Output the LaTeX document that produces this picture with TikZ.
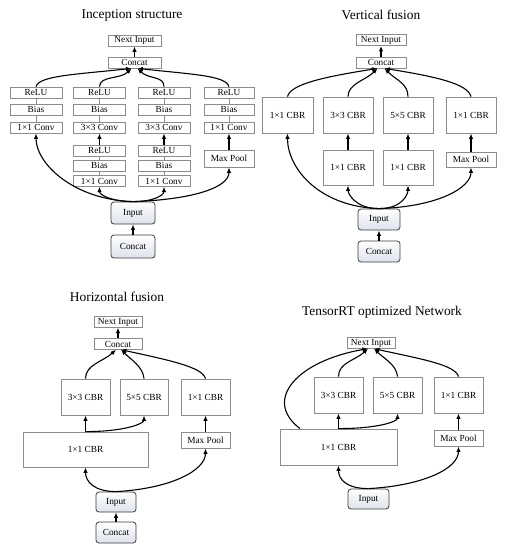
\documentclass[tikz,border=0pt]{standalone}
\usepackage{fontspec}
\setmainfont{Liberation Serif}
\usetikzlibrary{arrows.meta,shadings}
\definecolor{boxgray}{HTML}{8C8C8C}
\definecolor{inbot}{HTML}{DDE2EC}
\definecolor{indraw}{HTML}{3C3C3C}
\newcommand\bx[7][]{\node[box,#1,minimum width=#5pt,minimum height=#6pt] (#2) at (#3,-#4) {#7};}
\begin{document}
\begin{tikzpicture}[x=1pt,y=1pt,
  box/.style={draw=boxgray,line width=0.8pt,inner sep=0pt,font=\fontsize{9.3}{10}\selectfont,fill=white},
  inbox/.style={draw=indraw,rounded corners=3pt,top color=white,bottom color=inbot,line width=0.8pt},
  arr/.style={-{Latex[length=5.5pt,width=4.5pt]},line width=1.1pt,black},
  link/.style={draw=boxgray,line width=0.8pt},
  ttl/.style={font=\fontsize{13.4}{15}\selectfont,inner sep=0pt}]
\useasboundingbox (0,0) rectangle (505,-550);
% ---------- Inception structure ----------
\node[ttl] (t1) at (132,-15) {Inception structure};
\bx{ni1}{134.5}{40.5}{53}{11}{Next Input}
\bx{cc1}{134.5}{62.5}{53}{11}{Concat}
\bx{ra}{36}{92.5}{52}{11}{ReLU}
\bx{ba}{36}{109.5}{52}{11}{Bias}
\bx{ca}{36}{127.5}{52}{11}{1×1 Conv}
\bx{rb}{99.5}{92.5}{52}{11}{ReLU}
\bx{bb}{99.5}{109.5}{52}{11}{Bias}
\bx{cb}{99.5}{127.5}{52}{11}{3×3 Conv}
\bx{rb2}{99.5}{150.5}{52}{11}{ReLU}
\bx{bb2}{99.5}{165.5}{52}{11}{Bias}
\bx{cb2}{99.5}{181}{52}{10.5}{1×1 Conv}
\bx{rc}{164}{92.5}{52}{11}{ReLU}
\bx{bc}{164}{109.5}{52}{11}{Bias}
\bx{cc}{164}{127.5}{52}{11}{3×3 Conv}
\bx{rc2}{164}{150.5}{52}{11}{ReLU}
\bx{bc2}{164}{165.5}{52}{11}{Bias}
\bx{cc2}{164}{181}{52}{10.5}{1×1 Conv}
\bx{rd}{229}{92.5}{50}{11}{ReLU}
\bx{bd}{229}{109.5}{50}{11}{Bias}
\bx{cd}{229}{127.5}{50}{11}{1×1 Conv}
\bx{mpd}{229}{158.5}{50}{17}{Max Pool}
\bx[inbox]{in1}{133}{213}{44}{22}{Input}
\bx[inbox]{co1}{133}{246.5}{44}{23}{Concat}
\foreach \c in {a,b,c,d}{
  \draw[link] (r\c.south) -- (b\c.north);
  \draw[link] (b\c.south) -- (c\c.north);}
\foreach \c in {b,c}{
  \draw[link] (r\c2.south) -- (b\c2.north);
  \draw[link] (b\c2.south) -- (c\c2.north);
  \draw[arr] (r\c2.north) -- (c\c.south);}
\draw[arr] (mpd.north) -- (cd.south);
\draw[arr] (cc1.north) -- (ni1.south);
\draw[arr] (co1.north) -- (in1.south);
\draw[arr] (ra.north) .. controls +(3,11) and +(-55,-6) .. ([xshift=-3pt]cc1.south);
\draw[arr] (rb.north) .. controls +(0,11) and +(-11,-11) .. ([xshift=-3pt]cc1.south);
\draw[arr] (rc.north) .. controls +(0,11) and +(11,-11) .. ([xshift=3pt]cc1.south);
\draw[arr] (rd.north) .. controls +(-3,11) and +(55,-6) .. ([xshift=3pt]cc1.south);
\draw[arr] (in1.north) .. controls +(-60,2) and +(0,-30) .. (ca.south);
\draw[arr] (in1.north) .. controls +(-22,0) and +(0,-8) .. (cb2.south);
\draw[arr] (in1.north) .. controls +(22,0) and +(0,-8) .. (cc2.south);
\draw[arr] (in1.north) .. controls +(60,2) and +(0,-20) .. (mpd.south);
% ---------- Vertical fusion ----------
\node[ttl] (t2) at (381,-15) {Vertical fusion};
\bx{ni2}{381}{40}{50}{11}{Next Input}
\bx{cc2v}{381}{62.5}{50}{11}{Concat}
\bx{va}{287.5}{115}{51}{36}{1×1 CBR}
\bx{vb}{348}{115}{50}{36}{3×3 CBR}
\bx{vc}{408}{115}{50}{36}{5×5 CBR}
\bx{vd}{471}{115}{50}{36}{1×1 CBR}
\bx{vb2}{348}{167.5}{50}{35}{1×1 CBR}
\bx{vc2}{408}{167.5}{50}{35}{1×1 CBR}
\bx{vmp}{471}{159.5}{50}{15}{Max Pool}
\bx[inbox]{in2}{379}{219.5}{42}{21}{Input}
\bx[inbox]{co2}{379}{251.5}{42}{21}{Concat}
\draw[arr] (cc2v.north) -- (ni2.south);
\draw[arr] (co2.north) -- (in2.south);
\draw[arr] (vb2.north) -- (vb.south);
\draw[arr] (vc2.north) -- (vc.south);
\draw[arr] (vmp.north) -- (vd.south);
\draw[arr] (va.north) .. controls +(3,13) and +(-50,-8) .. ([xshift=-3.5pt]cc2v.south);
\draw[arr] (vb.north) .. controls +(0,13) and +(-12,-12) .. ([xshift=-3.5pt]cc2v.south);
\draw[arr] (vc.north) .. controls +(0,13) and +(12,-12) .. ([xshift=3.5pt]cc2v.south);
\draw[arr] (vd.north) .. controls +(-3,13) and +(50,-8) .. ([xshift=3.5pt]cc2v.south);
\draw[arr] (in2.north) .. controls +(-60,2) and +(0,-35) .. (va.south);
\draw[arr] (in2.north) .. controls +(-24,0) and +(0,-8) .. (vb2.south);
\draw[arr] (in2.north) .. controls +(24,0) and +(0,-8) .. (vc2.south);
\draw[arr] (in2.north) .. controls +(60,2) and +(0,-20) .. (vmp.south);
% ---------- Horizontal fusion ----------
\node[ttl] (t3) at (117,-297) {Horizontal fusion};
\bx{ni3}{118}{322}{48}{10.5}{Next Input}
\bx{cc3}{118}{344}{48}{10.5}{Concat}
\bx{hb}{85.5}{397}{49}{36}{3×3 CBR}
\bx{hc}{144}{397}{48}{36}{5×5 CBR}
\bx{hd}{205.5}{397}{49}{36}{1×1 CBR}
\bx{hmp}{205.5}{440}{49}{16}{Max Pool}
\bx{hbig}{85.5}{449.5}{125}{35}{1×1 CBR}
\bx[inbox]{in3}{116}{502}{40}{20}{Input}
\bx[inbox]{co3}{116}{532.5}{40}{21}{Concat}
\draw[arr] (cc3.north) -- (ni3.south);
\draw[arr] (co3.north) -- (in3.south);
\draw[arr] (hmp.north) -- (hd.south);
\draw[arr] (hbig.north -| hb.south) -- (hb.south);
\draw[arr] (hbig.north -| hb.south) .. controls +(40,0) and +(0,-8) .. (hc.south);
\draw[arr] (hb.north) .. controls +(0,14) and +(-13,-12) .. ([xshift=-2pt]cc3.south);
\draw[arr] (hc.north) .. controls +(-1,12) and +(10,-10) .. ([xshift=3pt]cc3.south);
\draw[arr] (hd.north) .. controls +(-3,12) and +(45,-10) .. ([xshift=3pt]cc3.south);
\draw[arr] (in3.north) .. controls +(-22,0) and +(0,-14) .. (hbig.south);
\draw[arr] (in3.north) .. controls +(55,3) and +(0,-22) .. (hmp.south);
% ---------- TensorRT optimized Network ----------
\node[ttl] (t4) at (382,-312) {TensorRT optimized Network};
\bx{ni4}{371}{343}{48}{10.5}{Next Input}
\bx{tb}{338.5}{395}{49}{36}{3×3 CBR}
\bx{tc}{397.5}{395}{49}{36}{5×5 CBR}
\bx{td}{458.5}{395}{49}{36}{1×1 CBR}
\bx{tmp}{458.5}{438}{49}{16}{Max Pool}
\bx{tbig}{338.5}{447}{117}{36}{1×1 CBR}
\bx[inbox]{in4}{368.5}{499}{41}{20}{Input}
\draw[arr] (tmp.north) -- (td.south);
\draw[arr] (tbig.north -| tb.south) -- (tb.south);
\draw[arr] (tbig.north -| tb.south) .. controls +(40,0) and +(0,-8) .. (tc.south);
\coordinate (tbl) at ([xshift=-38.5pt]tbig.north);
\draw[arr] (tbl) .. controls ++(-38,29) and ++(-70,-12) .. ([xshift=-3pt]ni4.south);
\draw[arr] (tb.north) .. controls +(0,14) and +(-13,-12) .. ([xshift=-3pt]ni4.south);
\draw[arr] (tc.north) .. controls +(-1,12) and +(10,-10) .. ([xshift=3pt]ni4.south);
\draw[arr] (td.north) .. controls +(-3,12) and +(45,-10) .. ([xshift=3pt]ni4.south);
\draw[arr] (in4.north) .. controls +(-22,0) and +(0,-14) .. (tbig.south);
\draw[arr] (in4.north) .. controls +(55,3) and +(0,-22) .. (tmp.south);
\end{tikzpicture}
\end{document}
